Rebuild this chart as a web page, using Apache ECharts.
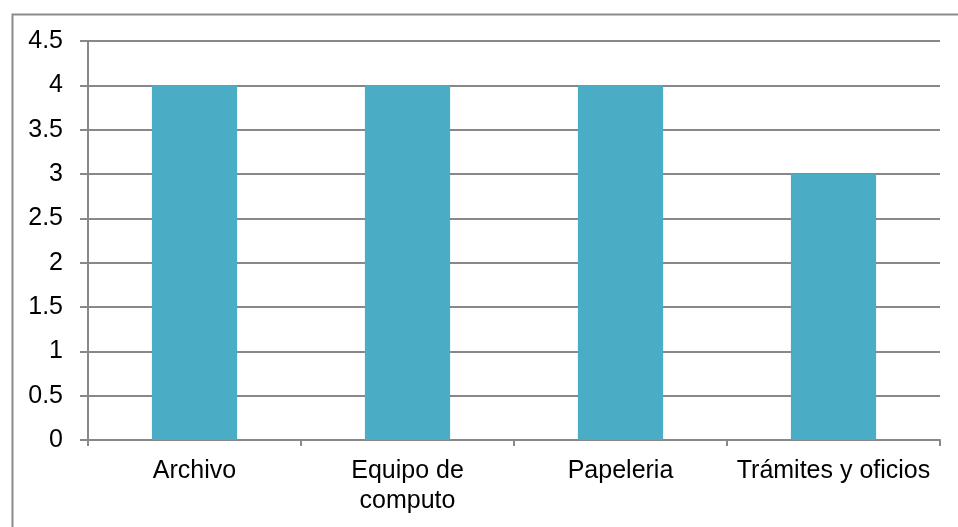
<!DOCTYPE html>
<html>
<head>
<meta charset="utf-8">
<script src="https://cdn.jsdelivr.net/npm/echarts@6/dist/echarts.min.js"></script>
<style>
  html, body { margin: 0; padding: 0; background: #fff; }
  #chart { width: 958px; height: 527px; }
</style>
</head>
<body>
<div id="chart"></div>
<script>
const categories = ['Archivo', 'Equipo de\ncomputo', 'Papeleria', 'Trámites y oficios'];
const values = [4, 4, 4, 3];
const yTicks = { min: 0, max: 4.5, interval: 0.5 };

const chart = echarts.init(document.getElementById('chart'), null, { renderer: 'canvas' });
chart.setOption({
  animation: false,
  backgroundColor: '#ffffff',
  textStyle: { fontFamily: 'Liberation Sans, Arial, sans-serif' },
  graphic: [{
    type: 'rect',
    left: 10, top: 12,
    shape: { width: 1000, height: 600 },
    style: { fill: 'none', stroke: '#8c8c8c', lineWidth: 2 },
    silent: true
  }],
  grid: { left: 88, right: 18, top: 41, bottom: 87, containLabel: false },
  xAxis: {
    type: 'category',
    data: categories,
    axisLine: { show: true, lineStyle: { color: '#888888', width: 2 } },
    axisTick: { show: true, alignWithLabel: false, length: 6, lineStyle: { color: '#888888', width: 2 } },
    axisLabel: { color: '#000000', fontSize: 25, margin: 16, lineHeight: 30, interval: 0 },
    splitLine: { show: false }
  },
  yAxis: {
    type: 'value',
    min: yTicks.min, max: yTicks.max, interval: yTicks.interval,
    axisLine: { show: true, lineStyle: { color: '#888888', width: 2 } },
    axisTick: { show: true, length: 8, lineStyle: { color: '#888888', width: 2 } },
    axisLabel: { color: '#000000', fontSize: 25, margin: 25 },
    splitLine: { show: true, lineStyle: { color: '#888888', width: 2 } }
  },
  series: [{
    type: 'bar',
    data: values,
    barWidth: '40%',
    itemStyle: { color: '#4BACC6' }
  }]
});
</script>
</body>
</html>
